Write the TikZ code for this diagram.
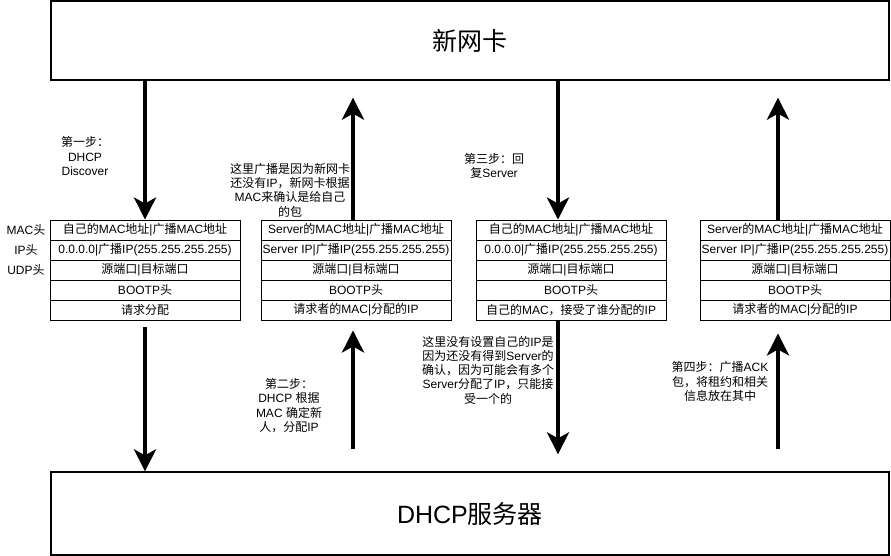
\documentclass[tikz,border=0pt]{standalone}
\usepackage{fontspec}
\setmainfont{Liberation Sans}
\newfontfamily\cjkfont{Noto Sans CJK SC}
\newfontfamily\latinfont{Liberation Sans}
\usetikzlibrary{arrows.meta}

% switch to the CJK font for Chinese characters
\XeTeXinterchartokenstate=1
\newXeTeXintercharclass\cjkclass
\newcount\cjkidx
\newcommand\setcjkrange[2]{\cjkidx=#1\relax
  \loop\XeTeXcharclass\cjkidx=\cjkclass\relax
  \ifnum\cjkidx<#2\relax\advance\cjkidx by 1\relax\repeat}
\setcjkrange{"3000}{"303F}
\setcjkrange{"4E00}{"9FFF}
\setcjkrange{"FF00}{"FFEF}
\XeTeXinterchartoks 0 \cjkclass = {\cjkfont}
\XeTeXinterchartoks 255 \cjkclass = {\cjkfont}
\XeTeXinterchartoks 4095 \cjkclass = {\cjkfont}
\XeTeXinterchartoks \cjkclass 0 = {\latinfont}
\XeTeXinterchartoks \cjkclass 255 = {\latinfont}
\XeTeXinterchartoks \cjkclass 4095 = {\latinfont}

\begin{document}
\begin{tikzpicture}[x=1pt,y=-1pt,
		bigbox/.style={draw, line width=1.3pt, minimum width=838pt, inner sep=0pt, font=\fontsize{25}{30}\selectfont},
		cell/.style={draw, line width=0.9pt, minimum width=190pt, minimum height=20pt, inner sep=0pt, font=\fontsize{12}{14}\selectfont},
		note/.style={align=center, inner sep=0pt, font=\fontsize{12}{14.3}\selectfont},
		fat/.style={line width=4.5pt, -{Stealth[length=22pt,width=22pt,inset=6pt]}}]
		\useasboundingbox (0,0) rectangle (891,556);

		% NIC and server
		\node[bigbox, minimum height=79pt] (nic) at (470,40.5) {新网卡};
		\node[bigbox, minimum height=83pt] (server) at (470,513.5) {DHCP服务器};

		% arrow columns
		\coordinate (col1) at (145,0);
		\coordinate (col2) at (353,0);
		\coordinate (col3) at (558,0);
		\coordinate (col4) at (778,0);

		% Header labels
		\node[note] (lmac) at (26,230) {MAC头};
		\node[note] (lip) at (26,250) {IP头};
		\node[note] (ludp) at (26,270) {UDP头};

		% Discover
		\node[cell] (t1a) at (145,230) {自己的MAC地址|广播MAC地址};
		\node[cell] (t1b) at (145,250) {0.0.0.0|广播IP(255.255.255.255)};
		\node[cell] (t1c) at (145,270) {源端口|目标端口};
		\node[cell] (t1d) at (145,290) {BOOTP头};
		\node[cell] (t1e) at (145,310) {请求分配};

		% Offer
		\node[cell] (t2a) at (356,230) {Server的MAC地址|广播MAC地址};
		\node[cell] (t2b) at (356,250) {Server IP|广播IP(255.255.255.255)};
		\node[cell] (t2c) at (356,270) {源端口|目标端口};
		\node[cell] (t2d) at (356,290) {BOOTP头};
		\node[cell] (t2e) at (356,310) {请求者的MAC|分配的IP};

		% Request
		\node[cell] (t3a) at (571,230) {自己的MAC地址|广播MAC地址};
		\node[cell] (t3b) at (571,250) {0.0.0.0|广播IP(255.255.255.255)};
		\node[cell] (t3c) at (571,270) {源端口|目标端口};
		\node[cell] (t3d) at (571,290) {BOOTP头};
		\node[cell] (t3e) at (571,310) {自己的MAC，接受了谁分配的IP};

		% ACK
		\node[cell] (t4a) at (795,230) {Server的MAC地址|广播MAC地址};
		\node[cell] (t4b) at (795,250) {Server IP|广播IP(255.255.255.255)};
		\node[cell] (t4c) at (795,270) {源端口|目标端口};
		\node[cell] (t4d) at (795,290) {BOOTP头};
		\node[cell] (t4e) at (795,310) {请求者的MAC|分配的IP};

		% Notes
		\node[note] (step1) at (85,156) {第一步：\\DHCP\\Discover};
		\node[note] (why1) at (290,190) {这里广播是因为新网卡\\还没有IP，新网卡根据\\MAC来确认是给自己\\的包};
		\node[note] (step3) at (494,166) {第三步：回\\复Server};
		\node[note] (step2) at (289,405.5) {第二步：\\DHCP 根据\\MAC 确定新\\人，分配IP};
		\node[note] (why3) at (488,370) {这里没有设置自己的IP是\\因为还没有得到Server的\\确认，因为可能会有多个\\Server分配了IP，只能接\\受一个的};
		\node[note] (step4) at (720,381.5) {第四步：广播ACK\\包，将租约和相关\\信息放在其中};

		% Arrows
		\draw[fat] (nic.south -| col1) -- (t1a.north -| col1);
		\draw[fat, shorten >=17pt] (t2a.north -| col2) -- (nic.south -| col2);
		\draw[fat] (nic.south -| col3) -- (t3a.north -| col3);
		\draw[fat, shorten >=17pt] (t4a.north -| col4) -- (nic.south -| col4);
		\draw[fat, shorten <=7pt] (t1e.south -| col1) -- (server.north -| col1);
		\draw[fat, shorten <=22pt, shorten >=10pt] (server.north -| col2) -- (t2e.south -| col2);
		\draw[fat, shorten >=17pt] (t3e.south -| col3) -- (server.north -| col3);
		\draw[fat, shorten <=22pt, shorten >=13pt] (server.north -| col4) -- (t4e.south -| col4);
	\end{tikzpicture}
\end{document}
